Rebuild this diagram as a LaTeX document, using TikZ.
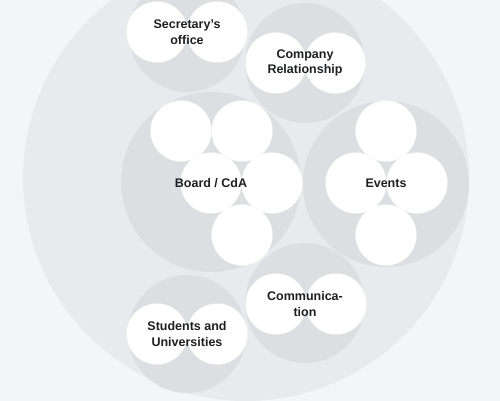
\documentclass[tikz,border=0pt]{standalone}
\usepackage{fontspec}
\setmainfont{Liberation Sans}
\usetikzlibrary{positioning}
\definecolor{bgpaper}{HTML}{F3F5F8}
\definecolor{outerring}{HTML}{E8EAED}
\definecolor{teamgray}{HTML}{DCDEE1}
\definecolor{labelink}{HTML}{1E1F22}

\begin{document}
\begin{tikzpicture}[x=1pt,y=-1pt,
    team/.style={circle,fill=teamgray,inner sep=0pt,minimum size=#1},
    seat/.style={circle,fill=white,draw=teamgray!40,very thin,inner sep=0pt,minimum size=61pt},
    tag/.style={text=labelink,inner sep=0pt,align=center,font=\bfseries\fontsize{12.5}{15.7}\selectfont}]

    \fill[bgpaper] (0,0) rectangle (500,401); % paper
    \useasboundingbox (0,0) rectangle (500,401);
    \begin{scope}
    \clip (0,0) rectangle (500,401);
    \node[circle,fill=outerring,inner sep=0pt,minimum size=446pt] (hub) at (246,178) {};

    % team circles
    \node[team=116pt] (secr) at (187,34) {};
    \node[team=120pt] (comp) at (305,63) {};
    \node[team=180pt] (board) at (211,182) {};
    \node[team=166pt] (events) at (386,184) {};
    \node[team=120pt] (comm) at (305,303) {};
    \node[team=118pt] (stud) at (187,334) {};

    % seats
    \node[seat] (secrL) at (157,32) {};
    \node[seat] (secrR) at (217,32) {};
    \node[seat] (compL) at (276,63) {};
    \node[seat] (compR) at (335,63) {};
    \foreach \p [count=\i] in {{181,131},{242,131},{211,183},{272,183},{242,235}}
        \node[seat] (board\i) at (\p) {};
    \foreach \p [count=\i] in {{386,131},{356,183},{417,183},{386,235}}
        \node[seat] (events\i) at (\p) {};
    \node[seat] (commL) at (276,304) {};
    \node[seat] (commR) at (336,304) {};
    \node[seat] (studL) at (157,334) {};
    \node[seat] (studR) at (217,334) {};
    \end{scope}

    % names
    \node[tag] (secrT) at (187,32) {Secretary{\char"0027}s\\office};
    \node[tag] (compT) at (305,63) {Company\\Relationship};
    \node[tag] (boardT) at (211,183) {Board / CdA};
    \node[tag] (eventsT) at (386,183) {Events};
    \node[tag] (commT) at (305,304) {Communica-\\tion};
    \node[tag] (studT) at (187,334) {Students and\\Universities};

\end{tikzpicture}
\end{document}
